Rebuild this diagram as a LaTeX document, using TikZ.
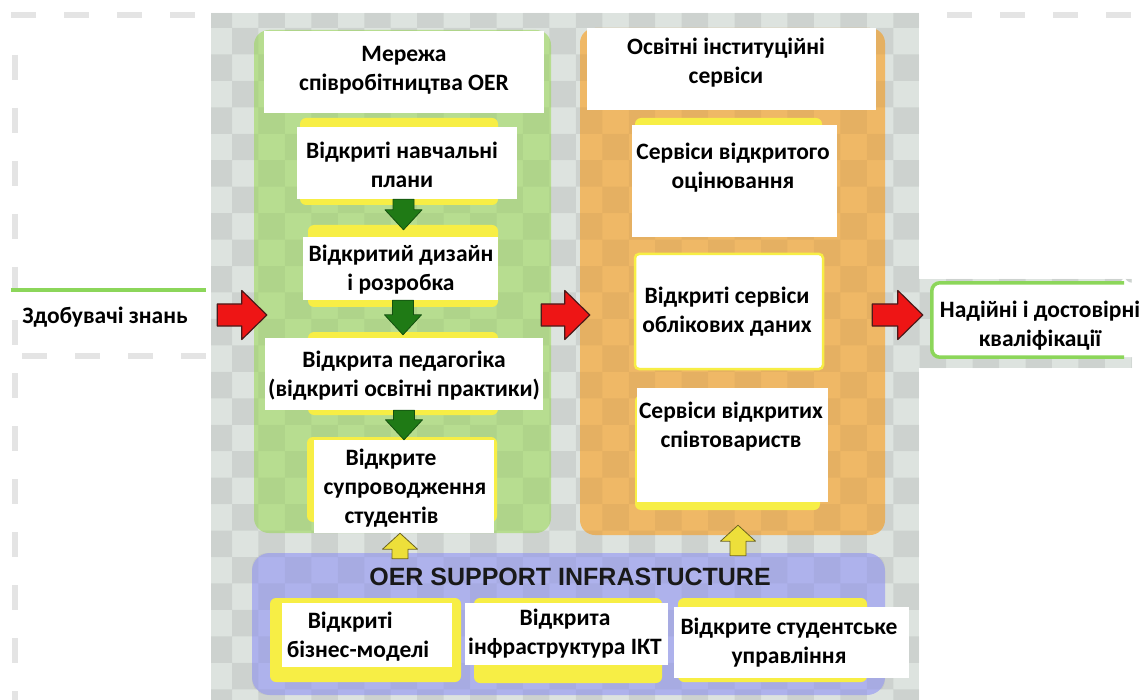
\documentclass[tikz,border=0pt]{standalone}
\usepackage{fontspec}
\setmainfont{Carlito}
\newfontfamily\arialfont{Liberation Sans}
\usetikzlibrary{calc,fit}
\definecolor{gbase}{HTML}{DDE3DF}
\definecolor{greenp}{HTML}{B7DD90}
\definecolor{orangep}{HTML}{EFB866}
\definecolor{bluep}{HTML}{AEB2EC}
\definecolor{yel}{HTML}{F7EE45}
\definecolor{redA}{HTML}{EE1515}
\definecolor{redD}{HTML}{4A1A1A}
\definecolor{greenA}{HTML}{1F7A15}
\definecolor{greenD}{HTML}{145010}
\definecolor{yelA}{HTML}{EDDF3A}
\definecolor{yelD}{HTML}{6B6320}
\definecolor{lgreen}{HTML}{8CD65A}
\definecolor{dashc}{HTML}{E4E4E4}
\newcommand\checkerfill[1]{%
  \fill[black, opacity=#1] foreach \j in {0,...,26}{ foreach \i in {0,...,17}{
    ({205.55+26.45*(2*\i+mod(\j,2))},{1.55+26.45*\j}) rectangle ++(26.45,26.45) } };}
\tikzset{
  txt/.style={font=\bfseries\fontsize{23.5}{29}\selectfont, align=center, inner sep=0, text=black},
  wbox/.style={fill=white, inner sep=0},
  ybox/.style={fill=yel, inner sep=0, rounded corners=6pt},
  panel/.style={inner sep=0, rounded corners=15pt},
  barrow/.style n args={3}{to path={
    ($(\tikztostart)!#1!90:(\tikztotarget)$)
    -- ($($(\tikztotarget)!#3!(\tikztostart)$)!#1!90:(\tikztotarget)$)
    -- ($($(\tikztotarget)!#3!(\tikztostart)$)!#2!90:(\tikztotarget)$)
    -- (\tikztotarget)
    -- ($($(\tikztotarget)!#3!(\tikztostart)$)!#2!-90:(\tikztotarget)$)
    -- ($($(\tikztotarget)!#3!(\tikztostart)$)!#1!-90:(\tikztotarget)$)
    -- ($(\tikztostart)!#1!-90:(\tikztotarget)$)
    -- cycle}},
  redarrow/.style={barrow={11pt}{24.5pt}{25pt}, fill=redA, draw=redD, line width=1.2pt, line join=round},
  greenarrow/.style={barrow={10.5pt}{18.5pt}{20pt}, fill=greenA, draw=greenD, line width=0.8pt, line join=round},
  yelarrow/.style={barrow={8pt}{17.5pt}{16pt}, fill=yelA, draw=yelD, line width=0.8pt, line join=round},
  dashline/.style={draw=dashc, line width=6pt, dash pattern=on 25pt off 28pt},
}
\begin{document}
\begin{tikzpicture}[x=1pt,y=-1pt]
\fill[white] (0,0) rectangle (1142,700);
\useasboundingbox (0,0) rectangle (1142,700);
% dashed margins
\draw[dashline] (14.5,55) -- (14.5,700);
\draw[dashline] (11,15) -- (211,15);
\draw[dashline] (22,356) -- (207,356);
\draw[dashline] (947,15) -- (1142,15);
% grey transparent area with checker
\fill[gbase] (211,13) rectangle (919,700);
\fill[gbase] (919,279) rectangle (1132,368);
\begin{scope}
  \clip (211,13) rectangle (919,700) (919,279) rectangle (1132,368);
  \checkerfill{0.07}
\end{scope}
% panels
\node[panel, fill=greenp, fit={(254,30) (551,533)}] (gp) {};
\node[panel, fill=orangep, fit={(580,28) (885,535)}] (op) {};
\node[panel, fill=bluep, fit={(252,553) (885,695)}, rounded corners=18pt] (bp) {};
\begin{scope}
  \clip[rounded corners=15pt] (254,30) rectangle (551,533) (580,28) rectangle (885,535) (252,553) rectangle (885,695);
  \checkerfill{0.04}
\end{scope}
% left box
\node[inner sep=0, fit={(11,290) (206,340)}] (learners) {};
\draw[lgreen, line width=4pt] (learners.north west) -- (learners.north east);
\node[txt] (learnerst) at (105,317) {Здобувачі знань};
% title boxes
\node[wbox, fit={(264,31) (544,113)}] (t1) {};
\node[txt] (t1t) at (404,70) {Мережа\\співробітництва OER};
\node[wbox, fit={(587,28) (876,110)}] (t2) {};
\node[txt] (t2t) at (726,63) {Освітні інституційні\\сервіси};
% green column
\node[ybox, fit={(300,118) (498,205)}] (y1) {};
\node[wbox, fit={(297,127) (517,199)}] (g1) {};
\node[txt] (g1t) at (402,165) {Відкриті навчальні\\плани};
\node[ybox, fit={(308,225) (498,307)}] (y2) {};
\node[wbox, fit={(303,237) (498,300)}] (g2) {};
\node[txt] (g2t) at (401,270) {Відкритий дизайн\\і розробка};
\node[ybox, fit={(308,332) (498,415)}] (y3) {};
\node[wbox, fit={(265,338) (543,410)}] (g3) {};
\node[txt] (g3t) at (404,376) {Відкрита педагогіка\\(відкриті освітні практики)};
\node[ybox, fit={(307,437) (497,522)}] (y4) {};
\node[wbox, fit={(314,440) (494,533)}] (g4) {};
\node[txt, align=left] (g4t) at (405,488) {\hspace*{22pt}Відкрите\\супроводження\\\hspace*{21pt}студентів};
% orange column
\node[ybox, fit={(635,118) (822,236)}] (y5) {};
\node[wbox, fit={(632,125) (837,237)}] (o1) {};
\node[txt] (o1t) at (733,168) {Сервіси відкритого\\оцінювання};
\node[wbox, draw=yel, line width=2.5pt, rounded corners=4pt, fit={(635,254) (823,369)}] (o2) {};
\node[txt] (o2t) at (727,312) {Відкриті сервіси\\облікових даних};
\node[ybox, fit={(635,395) (820,510)}] (y6) {};
\node[wbox, fit={(637,388) (828,502)}] (o3) {};
\node[txt] (o3t) at (731,427) {Сервіси відкритих\\співтовариств};
% result box
\node[inner sep=0, fit={(932,283) (1124,357)}] (result) {};
\fill[white, rounded corners=8pt] (result.north east) -- (result.north west) -- (result.south west) -- (result.south east) -- ++(18,0) |- (result.north east) -- cycle;
\draw[lgreen, line width=3.5pt, rounded corners=8pt] (result.north east) -- (result.north west) -- (result.south west) -- (result.south east);
\node[txt] (resultt) at (1040,326) {Надійні і достовірні\\кваліфікації};
% support infrastructure
\node[font=\arialfont\bfseries\fontsize{25}{28}\selectfont, text=black!90, inner sep=0] (bpt) at (570,577) {OER SUPPORT INFRASTUCTURE};
\node[ybox, fit={(270,598) (461,682)}] (y7) {};
\node[wbox, fit={(282,603) (452,667)}] (b1) {};
\node[txt, align=left] (b1t) at (358,637) {\hspace*{21pt}Відкриті\\бізнес-моделі};
\node[ybox, fit={(474,598) (662,683)}] (y8) {};
\node[wbox, fit={(465,603) (668,665)}] (b2) {};
\node[txt] (b2t) at (565,634) {Відкрита\\інфраструктура ІКТ};
\node[ybox, fit={(678,598) (867,682)}] (y9) {};
\node[wbox, fit={(674,607) (909,678)}] (b3) {};
\node[txt] (b3t) at (789,643) {Відкрите студентське\\управління};
% arrow end points
\coordinate (ga1s) at ($(g1.south)+(-3.5,0)$);
\coordinate (ga1e) at ($(g1.south |- y2.north)+(-3.5,5)$);
\coordinate (ga2s) at ($(g2.south)+(2.5,0)$);
\coordinate (ga2e) at ($(g2.south |- g3.north)+(2.5,-3)$);
\coordinate (ga3s) at (g3.south);
\coordinate (ga3e) at (g3.south |- g4.north);
\coordinate (ra1s) at ($(learners.east)+(11,0)$);
\coordinate (ra1e) at ($(gp.west |- learners.east)+(13,0)$);
\coordinate (ra2s) at ($(gp.east |- learners.east)+(-10,0)$);
\coordinate (ra2e) at ($(op.west |- learners.east)+(10,0)$);
\coordinate (ra3s) at ($(op.east |- learners.east)+(-13,0)$);
\coordinate (ra3e) at ($(result.west |- learners.east)+(-9,0)$);
\coordinate (ya1s) at ($(g4.south |- bp.north)+(-4,6)$);
\coordinate (ya1e) at ($(g4.south)+(-4,0)$);
\coordinate (ya2s) at ($(o3.south |- bp.north)+(5.5,3)$);
\coordinate (ya2e) at ($(o3.south |- op.south)+(5.5,-10)$);
% arrows
\draw[greenarrow] (ga1s) to (ga1e);
\draw[greenarrow] (ga2s) to (ga2e);
\draw[greenarrow] (ga3s) to (ga3e);
\draw[redarrow] (ra1s) to (ra1e);
\draw[redarrow] (ra2s) to (ra2e);
\draw[redarrow] (ra3s) to (ra3e);
\draw[yelarrow] (ya1s) to (ya1e);
\draw[yelarrow] (ya2s) to (ya2e);
\end{tikzpicture}
\end{document}
